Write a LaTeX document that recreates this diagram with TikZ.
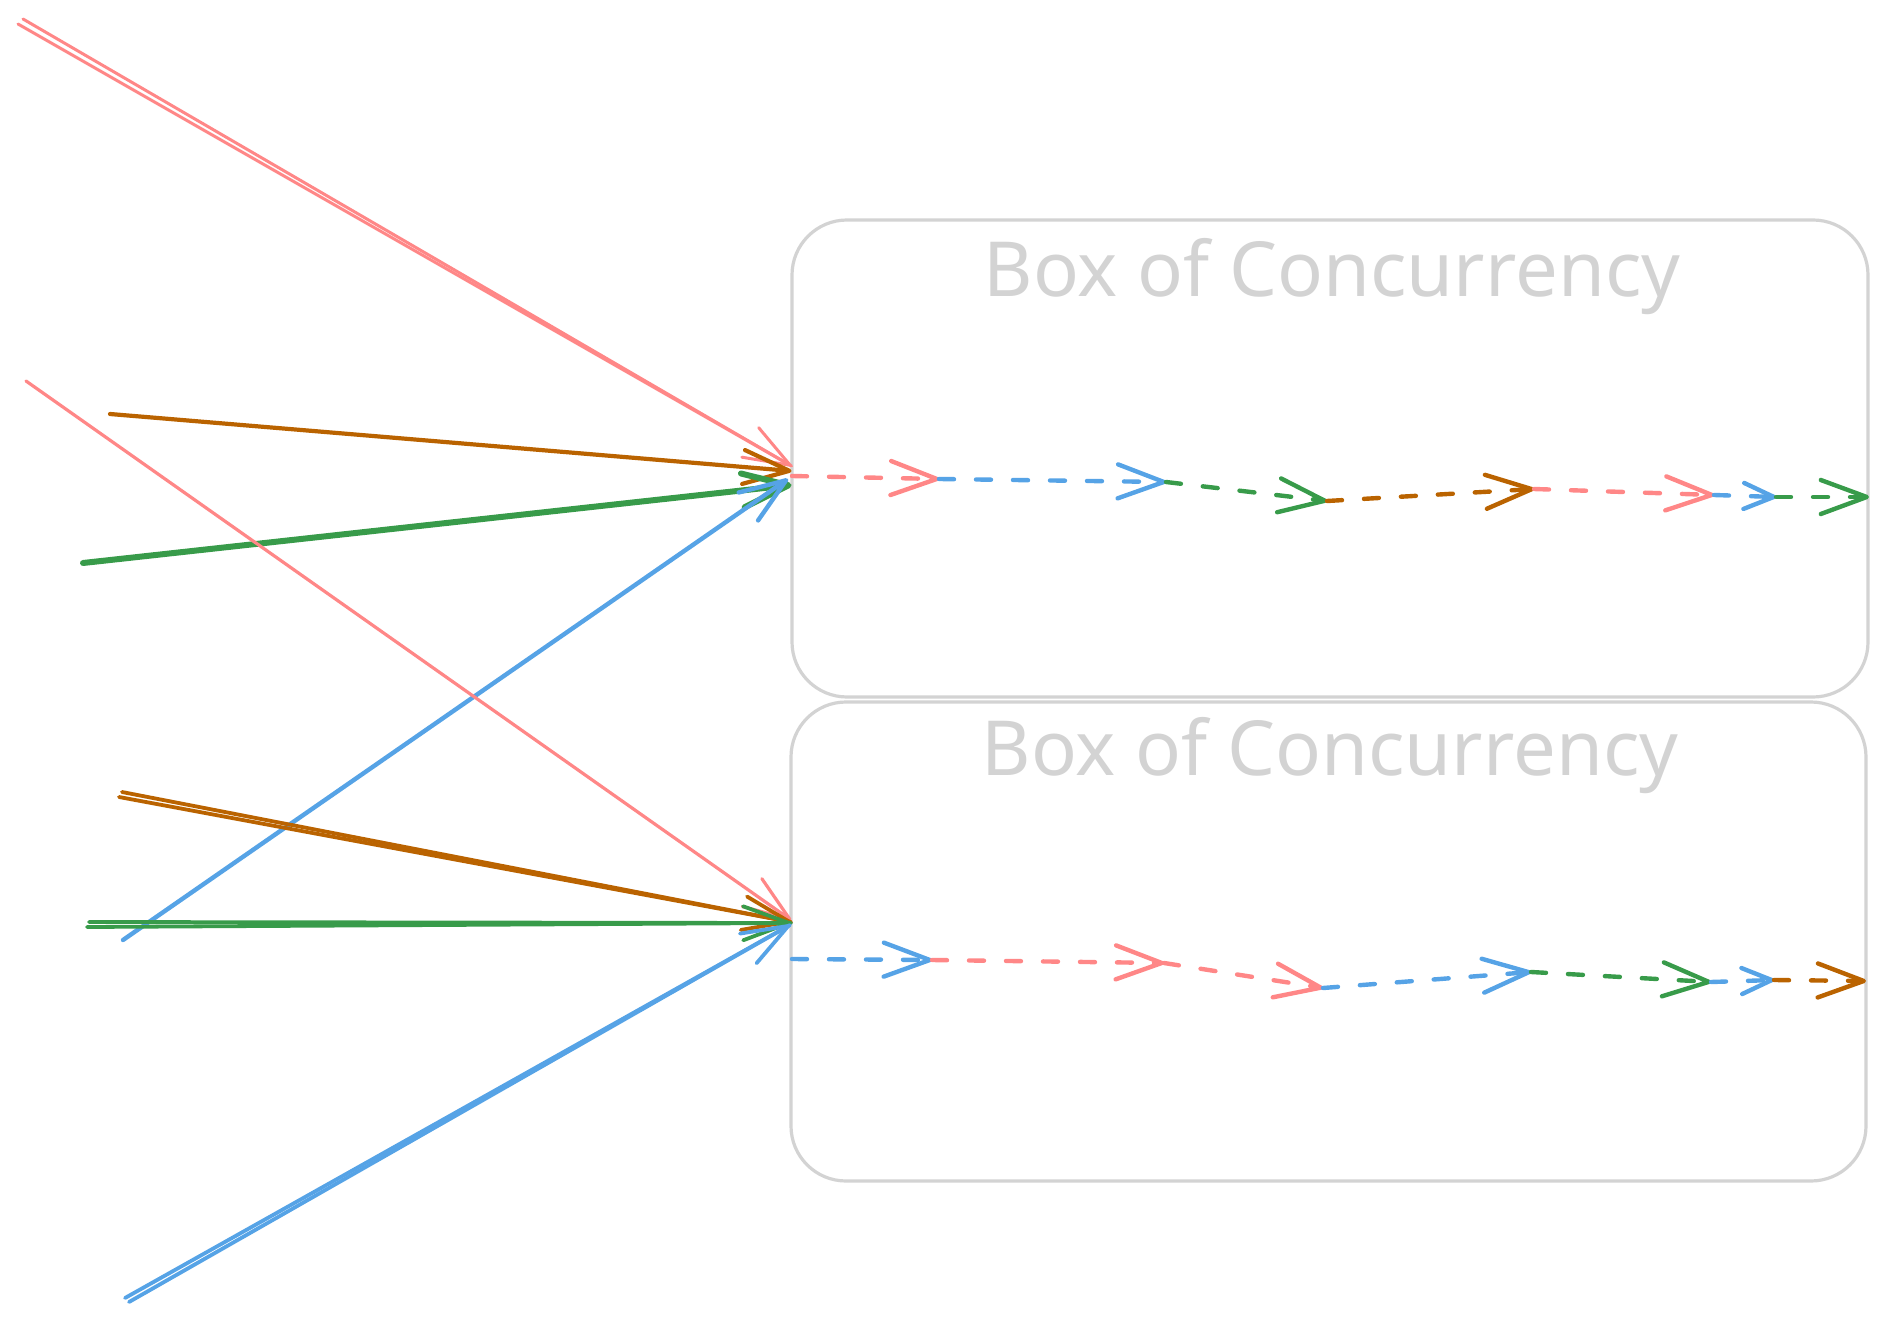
\documentclass[tikz,border=0pt]{standalone}
\usepackage{fontspec}
\setmainfont{Noto Sans}
\usetikzlibrary{arrows.meta}
\definecolor{cpink}{HTML}{FF8787}
\definecolor{cblue}{HTML}{56A3E6}
\definecolor{cgreen}{HTML}{389B4A}
\definecolor{cbrown}{HTML}{BA6300}
\definecolor{cgray}{HTML}{D3D3D3}
\begin{document}
\begin{tikzpicture}[x=1pt,y=-1pt,
  boxstyle/.style={draw=cgray, line width=3.2pt, rounded corners=55pt, minimum width=1076pt, minimum height=477pt, inner sep=0pt},
  titlestyle/.style={text=cgray, font=\fontsize{76}{80}\selectfont, inner sep=0pt, anchor=base},
  solidarrow/.style={line cap=round, -{Straight Barb[length=46pt,width=34pt,round]}},
  plainline/.style={line cap=round},
  dasharrow/.style={line cap=round, line width=4.4pt, dash pattern=on 15pt off 22pt, -{Straight Barb[length=46pt,width=34pt,round]}},
  shortarrow/.style={line cap=round, line width=4.4pt, dash pattern=on 15pt off 22pt, -{Straight Barb[length=30pt,width=26pt,round]}}
]
\useasboundingbox (0,0) rectangle (1888,1321);

% boxes
\node[boxstyle] (box1) at (1330,458.5) {};
\node[boxstyle, minimum width=1075pt, minimum height=479pt] (box2) at (1328.5,941.5) {};
\node[titlestyle] (title1) at (1332,297) {Box of Concurrency};
\node[titlestyle] (title2) at (1330,775) {Box of Concurrency};

% end points of incoming arrows
\coordinate (tp1) at (791.5,466);
\coordinate (tb1) at (791.5,471);
\coordinate (tg1) at (791.5,485);
\coordinate (tl1) at (788,479);
\coordinate (tp2) at (791,920);
\coordinate (tb2) at (791,922);
\coordinate (tg2) at (791,923);
\coordinate (tl2) at (790,925);

% start points
\coordinate (sp1a) at (18,24);
\coordinate (sp1b) at (23,19);
\coordinate (sb1) at (110,414);
\coordinate (sg1) at (83,563);
\coordinate (sl1) at (123,940);
\coordinate (sp2) at (26,381);
\coordinate (sb2a) at (119,797);
\coordinate (sb2b) at (122,792);
\coordinate (sg2a) at (87,927);
\coordinate (sg2b) at (89,922);
\coordinate (sl2a) at (125,1298);
\coordinate (sl2b) at (129,1302);

% incoming arrows, top point
\draw[solidarrow, cpink, line width=3pt] (sp1a) -- (tp1);
\draw[plainline, cpink, line width=3pt] (sp1b) -- (tp1);
\draw[solidarrow, cbrown, line width=4.2pt] (sb1) -- (tb1);
\draw[solidarrow, cgreen, line width=6pt] (sg1) -- (tg1);
\draw[solidarrow, cblue, line width=4.4pt] (sl1) -- (tl1);

% incoming arrows, bottom point
\draw[solidarrow, cpink, line width=3.2pt] (sp2) -- (tp2);
\draw[solidarrow, cbrown, line width=3.8pt] (sb2a) -- (tb2);
\draw[plainline, cbrown, line width=3.8pt] (sb2b) -- (tb2);
\draw[solidarrow, cgreen, line width=3.8pt] (sg2a) -- (tg2);
\draw[plainline, cgreen, line width=3.8pt] (sg2b) -- (tg2);
\draw[solidarrow, cblue, line width=3.8pt] (sl2a) -- (tl2);
\draw[plainline, cblue, line width=3.8pt] (sl2b) -- (tl2);

% top chain
\coordinate (t0) at (792,476);
\coordinate (t1) at (939,479);
\coordinate (t2) at (1166,482);
\coordinate (t3) at (1327,501);
\coordinate (t4) at (1534,489);
\coordinate (t5) at (1714,495);
\coordinate (t6) at (1776,497);
\coordinate (t7) at (1869,497);
\draw[dasharrow, cpink] (t0) -- (t1);
\draw[dasharrow, cblue] (t1) -- (t2);
\draw[dasharrow, cgreen] (t2) -- (t3);
\draw[dasharrow, cbrown] (t3) -- (t4);
\draw[dasharrow, cpink] (t4) -- (t5);
\draw[shortarrow, cblue] (t5) -- (t6);
\draw[dasharrow, cgreen] (t6) -- (t7);

% bottom chain
\coordinate (b0) at (792,959);
\coordinate (b1) at (932,960);
\coordinate (b2) at (1164,963);
\coordinate (b3) at (1323,988);
\coordinate (b4) at (1531,972);
\coordinate (b5) at (1711,982);
\coordinate (b6) at (1774,980);
\coordinate (b7) at (1866,981);
\draw[dasharrow, cblue] (b0) -- (b1);
\draw[dasharrow, cpink] (b1) -- (b2);
\draw[dasharrow, cpink] (b2) -- (b3);
\draw[dasharrow, cblue] (b3) -- (b4);
\draw[dasharrow, cgreen] (b4) -- (b5);
\draw[shortarrow, cblue] (b5) -- (b6);
\draw[dasharrow, cbrown] (b6) -- (b7);
\end{tikzpicture}
\end{document}
